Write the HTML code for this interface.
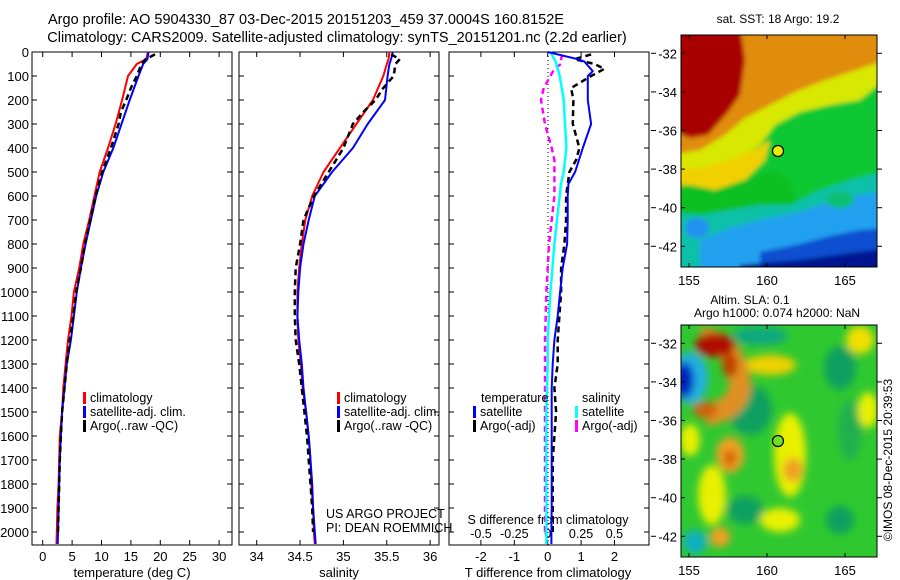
<!DOCTYPE html>
<html><head><meta charset="utf-8">
<style>
html,body{margin:0;padding:0;background:#fff;}
svg{display:block;font-family:"Liberation Sans",sans-serif;}
text{fill:#000;}
</style></head>
<body>
<svg id="fig" width="900" height="580" viewBox="0 0 900 580" xmlns="http://www.w3.org/2000/svg">
<defs>
<filter id="blur1" x="-20%" y="-20%" width="140%" height="140%"><feGaussianBlur stdDeviation="2"/></filter>
<filter id="blur2" x="-50%" y="-50%" width="200%" height="200%"><feGaussianBlur stdDeviation="4"/></filter>
<clipPath id="c1"><rect x="681" y="35" width="196" height="232"/></clipPath>
<clipPath id="c2"><rect x="681" y="325" width="196" height="232"/></clipPath>
</defs>
<g>
<text x="306" y="24" font-size="14.5" text-anchor="middle">Argo profile: AO 5904330_87 03-Dec-2015 20151203_459 37.0004S 160.8152E</text>
<text x="337" y="42" font-size="14.5" text-anchor="middle">Climatology: CARS2009. Satellite-adjusted climatology: synTS_20151201.nc (2.2d earlier)</text>
</g>
<g id="panels"></g>

<!-- SST map -->
<g>
<text x="778" y="23" font-size="12" text-anchor="middle">sat. SST: 18 Argo: 19.2</text>
<g clip-path="url(#c1)" filter="url(#blur1)">
<rect x="670" y="25" width="220" height="250" fill="#10c830"/>
<polygon points="670,25 890,25 890,75 860,100 830,105 800,112 775,125 760,145 740,160 715,185 690,185 670,185" fill="#d8e800"/>
<polygon points="670,25 890,25 880,62 850,72 820,82 795,92 770,105 745,118 725,135 700,150 670,155" fill="#e08c10"/>
<polygon points="670,25 740,25 745,60 740,95 728,112 708,135 690,138 670,130" fill="#a80000"/>
<polygon points="670,170 700,168 730,160 755,150 770,140 765,160 745,180 715,190 690,188 670,186" fill="#f0d000"/>
<polygon points="670,185 690,185 715,190 745,180 775,170 790,180 800,210 780,215 750,210 720,215 700,225 670,225" fill="#10c020"/>
<polygon points="670,212 700,215 730,210 760,205 790,205 820,190 850,180 890,170 890,275 670,275" fill="#10c0a8"/>
<polygon points="700,240 730,228 760,220 800,212 840,198 890,190 890,275 700,275" fill="#20a0f0"/>
<polygon points="760,252 800,244 830,236 860,230 890,228 890,275 760,275" fill="#1050d0"/>
<polygon points="740,265 800,260 850,253 890,248 890,275 740,275" fill="#001890"/>
<ellipse cx="697" cy="228" rx="12" ry="10" fill="#2090f0"/>
<ellipse cx="840" cy="200" rx="14" ry="8" fill="#10c070"/>
</g>
<rect x="681" y="35" width="196" height="232" fill="none" stroke="#000" stroke-width="1"/>
<circle cx="778" cy="151" r="5.5" fill="#e8f000" stroke="#000" stroke-width="1.2"/>
<g id="map1axes"></g>
</g>

<!-- SLA map -->
<g>
<text x="750" y="304" font-size="12" text-anchor="middle">Altim. SLA: 0.1</text>
<text x="777" y="317" font-size="12" text-anchor="middle">Argo h1000: 0.074 h2000: NaN</text>
<g clip-path="url(#c2)">
<rect x="670" y="315" width="220" height="250" fill="#30c830"/>
<g filter="url(#blur2)">
<ellipse cx="760" cy="336" rx="28" ry="9" fill="#10a880"/>
<ellipse cx="750" cy="410" rx="22" ry="25" fill="#10a060"/>
<ellipse cx="840" cy="368" rx="16" ry="22" fill="#10a060"/>
<ellipse cx="850" cy="430" rx="12" ry="30" fill="#20b050"/>
<ellipse cx="745" cy="510" rx="18" ry="14" fill="#10a060"/>
<ellipse cx="840" cy="520" rx="14" ry="14" fill="#10a060"/>
<ellipse cx="770" cy="365" rx="26" ry="10" fill="#f0d000"/>
<ellipse cx="790" cy="455" rx="16" ry="42" fill="#e8f000"/>
<ellipse cx="793" cy="470" rx="10" ry="12" fill="#f0a020"/>
<ellipse cx="860" cy="340" rx="14" ry="14" fill="#f0e000"/>
<ellipse cx="868" cy="410" rx="10" ry="18" fill="#e8f000"/>
<ellipse cx="712" cy="495" rx="14" ry="30" fill="#e8f000"/>
<ellipse cx="730" cy="455" rx="14" ry="18" fill="#f0a020"/>
<ellipse cx="730" cy="458" rx="6" ry="8" fill="#d06000"/>
<ellipse cx="690" cy="440" rx="10" ry="16" fill="#e8f000"/>
<ellipse cx="720" cy="537" rx="10" ry="10" fill="#f0a020"/>
<ellipse cx="780" cy="520" rx="20" ry="12" fill="#e8f000"/>
<path d="M700,338 Q735,340 740,385 Q738,410 705,415" stroke="#e09020" stroke-width="22" fill="none"/>
<ellipse cx="715" cy="345" rx="20" ry="12" fill="#b01000"/>
<ellipse cx="730" cy="365" rx="8" ry="12" fill="#c04000"/>
<ellipse cx="705" cy="410" rx="12" ry="8" fill="#d06010"/>
<ellipse cx="690" cy="378" rx="18" ry="26" fill="#20b0e0"/>
<ellipse cx="684" cy="380" rx="10" ry="18" fill="#0020c0"/>
<ellipse cx="695" cy="542" rx="12" ry="12" fill="#10b0c0"/>
</g>
</g>
<rect x="681" y="325" width="196" height="232" fill="none" stroke="#000" stroke-width="1"/>
<circle cx="778" cy="441" r="5.5" fill="#70e020" stroke="#000" stroke-width="1.2"/>
<g id="map2axes"></g>
<text transform="translate(892,460) rotate(-90)" font-size="12" text-anchor="middle">©IMOS 08-Dec-2015 20:39:53</text>
</g>
</svg>

<script>
// ---- data ----
const depthTicks = [0,100,200,300,400,500,600,700,800,900,1000,1100,1200,1300,1400,1500,1600,1700,1800,1900,2000];
const tempTicks = [0,5,10,15,20,25,30];
const salTicks = [34,34.5,35,35.5,36];
const salTickLabels = ["34","34.5","35","35.5","36"];
const dTTicks = [-2,-1,0,1,2];
const dSTicks = [-0.5,-0.25,0,0.25,0.5];
const dSTickLabels = ["-0.5","-0.25","0","0.25","0.5"];

const climDepth = [0,30,50,100,200,300,400,500,600,700,800,900,1000,1100,1200,1300,1400,1500,1600,1700,1800,1900,2000,2050];
const climTemp = [17.9,17.6,16,14.5,13.5,12.4,11.1,9.7,8.8,7.9,6.9,6.2,5.3,4.9,4.3,3.9,3.5,3.3,2.9,2.8,2.7,2.5,2.4,2.35];
const climSal = [35.53,35.52,35.5,35.46,35.34,35.15,34.96,34.77,34.64,34.56,34.52,34.49,34.47,34.47,34.48,34.51,34.53,34.57,34.6,34.62,34.63,34.65,34.66,34.67];
const satTemp = [18,17.8,17.1,16.3,14.8,13.4,12,10.3,9.1,8.2,7.3,6.5,5.8,5.3,4.8,4.1,3.7,3.3,3.1,2.9,2.8,2.7,2.6,2.55];
const satSal = [35.57,35.55,35.53,35.51,35.48,35.28,35.11,34.87,34.67,34.6,34.54,34.5,34.48,34.47,34.49,34.52,34.54,34.57,34.6,34.62,34.64,34.65,34.67,34.68];
const argoDepth = [10,30,50,100,150,200,250,300,400,500,600,700,800,900,1000,1100,1200,1300,1400,1500,1600,1700,1800,1900,2000];
const argoTemp = [19.1,17.5,16.8,16,15,14.2,13.3,12.9,11.6,10.1,9,8.1,7.2,6.5,5.7,5.2,4.6,4.1,3.7,3.3,3.1,2.9,2.8,2.7,2.6];
const argoSal = [35.55,35.65,35.6,35.58,35.46,35.37,35.23,35.11,35.0,34.83,34.66,34.54,34.5,34.45,34.44,34.44,34.45,34.49,34.52,34.55,34.58,34.6,34.62,34.64,34.65];

const diffDepth = [0,30,40,80,100,200,300,400,500,550,600,700,800,900,1000,1100,1200,1300,1400,1500,1600,1700,1800,1900,2000,2050];
const dTsat = [0,0.9,1.1,1.35,1.2,1.2,1.3,1.05,0.82,0.62,0.6,0.6,0.58,0.45,0.37,0.3,0.2,0.15,0.12,0.12,0.12,0.12,0.12,0.12,0.11,0.11];
const dSsat = [0.02,0.05,0.06,0.08,0.09,0.12,0.13,0.14,0.12,0.1,0.09,0.07,0.05,0.035,0.02,0.01,0.0,0.0,-0.005,-0.01,-0.01,-0.01,-0.01,-0.01,-0.01,-0.01];
const argoDiffDepth = [10,30,50,70,100,150,200,300,400,450,500,600,700,800,900,1000,1100,1200,1300,1400,1500,1600,1700,1800,1900,2000];
const dTargo = [1.3,0.8,1.4,1.7,1.3,0.7,0.77,0.75,0.95,0.85,0.65,0.55,0.55,0.5,0.4,0.4,0.35,0.3,0.3,0.2,0.25,0.2,0.15,0.15,0.15,0.15];
const dSargo = [0.11,0.1,0.1,0.05,0.02,-0.03,-0.05,-0.02,0.03,0.05,0.05,0.05,0.03,0.01,0.0,-0.01,-0.015,-0.02,-0.02,-0.02,-0.02,-0.02,-0.02,-0.02,-0.02,-0.02];

const lonTicks = [155,160,165];
const latTicks = [-32,-34,-36,-38,-40,-42];

// ---- helpers ----
const NS = "http://www.w3.org/2000/svg";
const panels = document.getElementById('panels');
function mk(tag, attrs, parent){
  const e = document.createElementNS(NS, tag);
  for (const k in attrs) e.setAttribute(k, attrs[k]);
  (parent||panels).appendChild(e);
  return e;
}
const TOP = 52, BOT = 545;
function yD(d){ return TOP + d*0.24; }
function xT(t){ return 42.7 + t*5.88; }
function xS(s){ return 256.7 + (s-34)*86.7; }
function xDT(t){ return 547.7 + t*33.4; }
function xDS(s){ return 547.7 + s*133.4; }

function frame(x0,x1,name){
  const r = mk('rect',{x:x0,y:TOP,width:x1-x0,height:BOT-TOP,fill:'none',stroke:'#000','stroke-width':1});
  
  
  depthTicks.forEach(d=>{
    mk('line',{x1:x0,x2:x0+5,y1:yD(d),y2:yD(d),stroke:'#000'});
    mk('line',{x1:x1,x2:x1-5,y1:yD(d),y2:yD(d),stroke:'#000'});
  });
}
function xticks(vals, labels, fx, name){
  const g = mk('g',{});
  
  
  vals.forEach((v,i)=>{
    const x = fx(v);
    mk('line',{x1:x,x2:x,y1:TOP,y2:TOP+5,stroke:'#000'},g);
    mk('line',{x1:x,x2:x,y1:BOT,y2:BOT-5,stroke:'#000'},g);
    const t = mk('text',{x:x,y:561,'font-size':13,'text-anchor':'middle'},g);
    t.textContent = labels[i];
  });
}
function line(xs, ds, fx, color, dashed, w, name){
  let d = '';
  xs.forEach((v,i)=>{ d += (i?'L':'M') + fx(v).toFixed(1) + ',' + yD(ds[i]).toFixed(1); });
  const p = mk('path',{d:d,fill:'none',stroke:color,'stroke-width':w||2,'stroke-linejoin':'round'});
  if (dashed) p.setAttribute('stroke-dasharray', dashed);
  
  
}
function legend(x,y,items,name){
  const g = mk('g',{});
  
  
  items.forEach((it,i)=>{
    mk('rect',{x:x,y:y+i*14-10,width:3,height:12,fill:it[1]},g);
    const t = mk('text',{x:x+7,y:y+i*14,'font-size':12.5},g);
    t.textContent = it[0];
  });
}

// depth labels
depthTicks.forEach(d=>{
  const t = mk('text',{x:29,y:yD(d)+5,'font-size':13,'text-anchor':'end'});
  
  
  t.textContent = d;
});

// Panel 1 temperature
frame(32,232,'temperature-panel');
xticks(tempTicks, tempTicks.map(String), xT, 'temperature-x-axis');
line(climTemp, climDepth, xT, '#f00', null, 2, 'temp-climatology-line');
line(satTemp, climDepth, xT, '#00f', null, 2, 'temp-satellite-line');
line(argoTemp, argoDepth, xT, '#000', '6,4', 2.5, 'temp-argo-line');
(function(){const t=mk('text',{x:132,y:577,'font-size':13,'text-anchor':'middle'});t.textContent='temperature (deg C)';})();
legend(83,402,[['climatology','#f00'],['satellite-adj. clim.','#00f'],['Argo(..raw -QC)','#000']],'temperature-legend');

// Panel 2 salinity
frame(239,439,'salinity-panel');
xticks(salTicks, salTickLabels, xS, 'salinity-x-axis');
line(climSal, climDepth, xS, '#f00', null, 2, 'sal-climatology-line');
line(satSal, climDepth, xS, '#00f', null, 2, 'sal-satellite-line');
line(argoSal, argoDepth, xS, '#000', '6,4', 2.5, 'sal-argo-line');
(function(){const t=mk('text',{x:339,y:577,'font-size':13,'text-anchor':'middle'});t.textContent='salinity';})();
legend(337,402,[['climatology','#f00'],['satellite-adj. clim.','#00f'],['Argo(..raw -QC)','#000']],'salinity-legend');
(function(){
  const t1=mk('text',{x:326,y:518,'font-size':12.5});t1.textContent='US ARGO PROJECT';
  const t2=mk('text',{x:326,y:532,'font-size':12.5});t2.textContent='PI: DEAN ROEMMICH';
})();

// Panel 3 differences
frame(449,649,'difference-panel');
xticks(dTTicks, dTTicks.map(String), xDT, 'temp-diff-x-axis');
(function(){
  mk('line',{x1:548,x2:548,y1:TOP,y2:BOT,stroke:'#000','stroke-width':1,'stroke-dasharray':'1,3'});
  const g = mk('g',{});
  
  
  dSTicks.forEach((v,i)=>{
    const t = mk('text',{x:xDS(v),y:538,'font-size':12.5,'text-anchor':'middle'},g);
    t.textContent = dSTickLabels[i];
  });
  const a=mk('text',{x:548,y:524,'font-size':12.5,'text-anchor':'middle'});a.textContent='S difference from climatology';
  const b=mk('text',{x:548,y:577,'font-size':13,'text-anchor':'middle'});b.textContent='T difference from climatology';
})();
line(dSargo, argoDiffDepth, xDS, '#f0f', '6,4', 2.5, 'sal-diff-argo-line');
line(dSsat, diffDepth, xDS, '#0ff', null, 2.5, 'sal-diff-satellite-line');
line(dTargo, argoDiffDepth, xDT, '#000', '6,4', 2.5, 'temp-diff-argo-line');
line(dTsat, diffDepth, xDT, '#00f', null, 2, 'temp-diff-satellite-line');
(function(){
  const a=mk('text',{x:481,y:402,'font-size':12.5});a.textContent='temperature';
  const b=mk('text',{x:582,y:402,'font-size':12.5});b.textContent='salinity';
})();
legend(473,416,[['satellite','#00f'],['Argo(-adj)','#000']],'temp-diff-legend');
legend(575,416,[['satellite','#0ff'],['Argo(-adj)','#f0f']],'sal-diff-legend');

// map axes
function mapAxes(gid, top, name){
  const g = document.getElementById(gid);
  
  
  const xL = lon => 689 + (lon-155)*15.6;
  const yL = lat => top + 18.3 + (-32-lat)*19.3;
  lonTicks.forEach(l=>{
    mk('line',{x1:xL(l),x2:xL(l),y1:top,y2:top+4,stroke:'#000'},g);
    mk('line',{x1:xL(l),x2:xL(l),y1:top+232,y2:top+228,stroke:'#000'},g);
    const t = mk('text',{x:xL(l),y:top+250,'font-size':13,'text-anchor':'middle'},g);
    t.textContent = l;
  });
  latTicks.forEach(l=>{
    mk('line',{x1:681,x2:685,y1:yL(l),y2:yL(l),stroke:'#000'},g);
    mk('line',{x1:877,x2:882,y1:yL(l),y2:yL(l),stroke:'#000'},g);
    mk('line',{x1:651,x2:656,y1:yL(l),y2:yL(l),stroke:'#000'},g);
    const t = mk('text',{x:677,y:yL(l)+5,'font-size':13,'text-anchor':'end'},g);
    t.textContent = l;
  });
}
mapAxes('map1axes', 35, 'sst-map-axes');
mapAxes('map2axes', 325, 'sla-map-axes');
</script>
</body></html>
